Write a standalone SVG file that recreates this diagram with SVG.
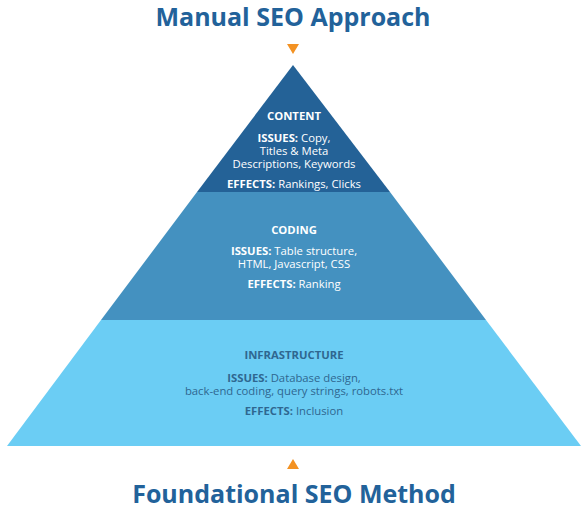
<svg xmlns="http://www.w3.org/2000/svg" width="587" height="509" viewBox="0 0 587 509">
<style>
.title{font-family:"Open Sans","Liberation Sans",sans-serif;font-weight:700;font-size:25px;fill:#22629a;text-anchor:middle}
.t{font-family:"Open Sans","Liberation Sans",sans-serif;font-size:11.3px;text-anchor:middle}
.w{fill:#ffffff}
.d{fill:#2f6790}
.b{font-weight:700}
.arrow{fill:#f39223}
</style>
<rect width="587" height="509" fill="#ffffff"/>
<text class="title" x="293" y="26">Manual SEO Approach</text>
<text class="title" x="294" y="503">Foundational SEO Method</text>
<g id="connectors">
<polygon class="arrow" points="287,44 299,44 293,54"/>
<polygon class="arrow" points="293,459 287,469 299,469"/>
</g>
<g id="infrastructure">
<polygon points="101,320 486,320 581,446 7,446" fill="#6bcdf4"/>
<text class="t d b" x="294" y="359">INFRASTRUCTURE</text>
<text class="t d" x="294" y="382"><tspan class="b">ISSUES:</tspan> Database design,</text>
<text class="t d" x="294" y="395">back-end coding, query strings, robots.txt</text>
<text class="t d" x="294" y="415"><tspan class="b">EFFECTS:</tspan> Inclusion</text>
</g>
<g id="coding">
<polygon points="197,192 390,192 486,320 101,320" fill="#4491c0"/>
<text class="t w b" x="294" y="234">CODING</text>
<text class="t w" x="294" y="255"><tspan class="b">ISSUES:</tspan> Table structure,</text>
<text class="t w" x="294" y="268">HTML, Javascript, CSS</text>
<text class="t w" x="294" y="288"><tspan class="b">EFFECTS:</tspan> Ranking</text>
</g>
<g id="content">
<polygon points="293,65 390,192 197,192" fill="#246297"/>
<text class="t w b" x="294" y="120">CONTENT</text>
<text class="t w" x="294" y="142"><tspan class="b">ISSUES:</tspan> Copy,</text>
<text class="t w" x="294" y="155">Titles &amp; Meta</text>
<text class="t w" x="294" y="168">Descriptions, Keywords</text>
<text class="t w" x="294" y="188"><tspan class="b">EFFECTS:</tspan> Rankings, Clicks</text>
</g>
</svg>
